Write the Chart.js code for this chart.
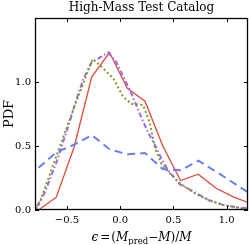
<!DOCTYPE html>
<html>
<head>
<meta charset="utf-8">
<script src="https://cdn.jsdelivr.net/npm/chart.js@4.4.0/dist/chart.umd.min.js"></script>
<style>
  html, body { margin: 0; padding: 0; background: #fff; overflow: hidden; }
</style>
</head>
<body>
<canvas id="c" width="249" height="245"></canvas>
<script>
// histogram bin centres shared by the solid and dashed curves
const binCenters = [-0.767, -0.6, -0.433, -0.267, -0.1, 0.067, 0.233, 0.4, 0.567, 0.733, 0.9, 1.067, 1.233]
const redPdf  = [0.0, 0.10, 0.49, 1.04, 1.23, 0.95, 0.85, 0.50, 0.23, 0.28, 0.17, 0.10, 0.05]
const bluePdf = [0.33, 0.45, 0.51, 0.585, 0.475, 0.435, 0.445, 0.32, 0.31, 0.385, 0.30, 0.21, 0.12]

// the dotted / dash-dot curves are sampled more finely
const greenX   = [-0.79, -0.767, -0.6, -0.433, -0.26, -0.19, -0.066, 0.028, 0.106, 0.215, 0.278, 0.325, 0.387, 0.45, 0.56, 0.70, 0.825, 0.965, 1.10, 1.2]
const greenPdf = [0.01, 0.03, 0.42, 0.80, 1.18, 1.13, 1.03, 0.885, 0.83, 0.82, 0.68, 0.49, 0.36, 0.30, 0.21, 0.13, 0.08, 0.04, 0.02, 0.0]
const purpleX   = [-0.78, -0.706, -0.6, -0.566, -0.47, -0.425, -0.347, -0.27, -0.175, -0.113, -0.04, 0.09, 0.2, 0.26, 0.325, 0.387, 0.45, 0.56, 0.70, 0.825, 0.965, 1.105, 1.2]
const purplePdf = [0.03, 0.14, 0.37, 0.455, 0.70, 0.83, 1.02, 1.15, 1.20, 1.23, 1.16, 0.94, 0.72, 0.61, 0.51, 0.40, 0.31, 0.20, 0.14, 0.078, 0.04, 0.02, 0.015]

const xTicks = [-0.5, 0.0, 0.5, 1.0]
const yTicks = [0.0, 0.5, 1.0]
const titleText = 'High-Mass Test Catalog'
const yLabel = 'PDF'

const serif = '"DejaVu Serif", serif'

const pts = (xs, ys) => xs.map((x, i) => ({x: x, y: ys[i]}))
const fmt = v => (v < 0 ? '\u2212' : '') + Math.abs(v).toFixed(1)

const frame = {
  id: 'frame',
  afterDraw(chart) {
    const {ctx, chartArea: a, scales: {x, y}} = chart
    ctx.save()
    ctx.strokeStyle = '#000'
    ctx.lineWidth = 1
    ctx.beginPath()
    xTicks.forEach(v => {
      const px = Math.round(x.getPixelForValue(v)) + 0.5
      ctx.moveTo(px, a.bottom); ctx.lineTo(px, a.bottom - 4)
      ctx.moveTo(px, a.top); ctx.lineTo(px, a.top + 4)
    })
    yTicks.forEach(v => {
      const py = Math.round(y.getPixelForValue(v)) + 0.5
      ctx.moveTo(a.left, py); ctx.lineTo(a.left + 4, py)
      ctx.moveTo(a.right, py); ctx.lineTo(a.right - 4, py)
    })
    ctx.stroke()
    ctx.lineWidth = 1.3
    ctx.strokeRect(a.left + 0.5, a.top + 0.5, a.width - 1, a.height - 1)

    ctx.fillStyle = '#000'
    // title
    ctx.font = '12px ' + serif
    ctx.textAlign = 'center'
    ctx.textBaseline = 'middle'
    ctx.fillText(titleText, (a.left + a.right) / 2, 8)

    // y label
    ctx.save()
    ctx.translate(10, (a.top + a.bottom) / 2)
    ctx.rotate(-Math.PI / 2)
    ctx.font = '13px ' + serif
    ctx.fillText(yLabel, 0, 0)
    ctx.restore()

    // x label: ϵ = (M_pred − M)/M  [text, font, baseline shift, gap after]
    const parts = [
      ['\u03f5', 'italic 12px ', 0, 2],
      ['=', '12px ', 0, 1],
      ['(', '12px ', 0, 0],
      ['M', 'italic 12px ', 0, 0],
      ['pred', '8.5px ', 3, 0],
      ['\u2212', '12px ', 0, 0],
      ['M', 'italic 12px ', 0, 0],
      [')', '12px ', 0, 0],
      ['/', '12px ', 0, 0],
      ['M', 'italic 12px ', 0, 0]
    ]
    ctx.textAlign = 'left'
    ctx.textBaseline = 'alphabetic'
    let total = 0
    parts.forEach(p => { ctx.font = p[1] + serif; total += ctx.measureText(p[0]).width + p[3] })
    let cx = (a.left + a.right) / 2 - total / 2
    parts.forEach(p => {
      ctx.font = p[1] + serif
      ctx.fillText(p[0], cx, 241 + p[2])
      cx += ctx.measureText(p[0]).width + p[3]
    })
    ctx.restore()
  }
}

new Chart(document.getElementById('c'), {
  type: 'line',
  data: {
    datasets: [
      {
        data: pts(binCenters, bluePdf),
        borderColor: '#6b7ff0',
        borderWidth: 2,
        borderDash: [8, 5]
      },
      {
        data: pts(greenX, greenPdf),
        borderColor: '#7c9c35',
        borderWidth: 2,
        borderDash: [2, 2.5]
      },
      {
        data: pts(purpleX, purplePdf),
        borderColor: '#a066f0',
        borderWidth: 2,
        borderDash: [5, 2.5, 1.5, 2.5]
      },
      {
        data: pts(binCenters, redPdf),
        borderColor: '#e04a3a',
        borderWidth: 1.3
      }
    ]
  },
  options: {
    responsive: false,
    animation: false,
    devicePixelRatio: 1,
    layout: { padding: { top: 18, right: 1, left: 0, bottom: 0 } },
    elements: { point: { radius: 0 }, line: { tension: 0 } },
    plugins: { legend: { display: false }, tooltip: { enabled: false } },
    scales: {
      x: {
        type: 'linear',
        min: -0.8,
        max: 1.2,
        afterBuildTicks: s => { s.ticks = xTicks.map(v => ({value: v})) },
        afterFit: s => { s.height = 35 },
        grid: { display: false, drawTicks: false },
        border: { display: false },
        ticks: { color: '#000', padding: 4, font: { family: serif, size: 10 }, callback: fmt, maxRotation: 0 }
      },
      y: {
        type: 'linear',
        min: 0,
        max: 1.5,
        afterBuildTicks: s => { s.ticks = yTicks.map(v => ({value: v})) },
        afterFit: s => { s.width = 35 },
        grid: { display: false, drawTicks: false },
        border: { display: false },
        ticks: { color: '#000', padding: 4, font: { family: serif, size: 10 }, callback: fmt }
      }
    }
  },
  plugins: [frame]
})
</script>
</body>
</html>
